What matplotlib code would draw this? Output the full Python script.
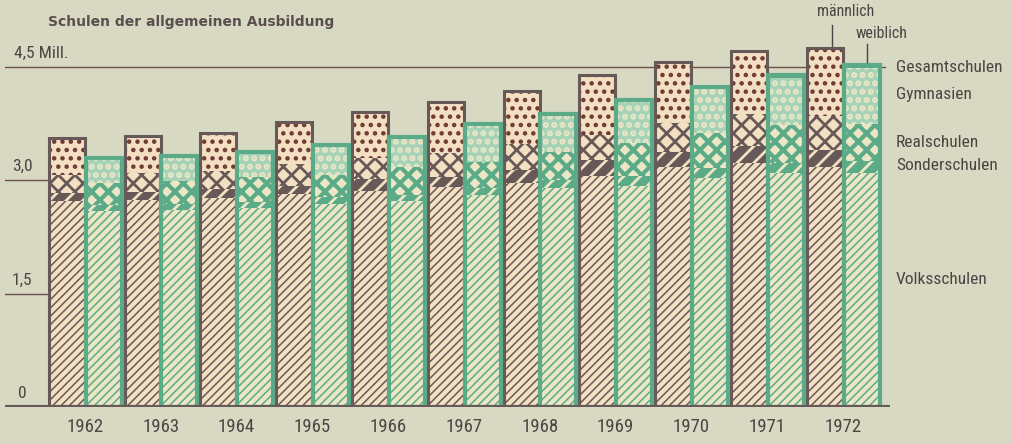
import numpy as np
import matplotlib.pyplot as plt
from matplotlib import font_manager
from matplotlib.lines import Line2D

# schmale Schrift, falls vorhanden
narrow = None
for fam in ['Roboto Condensed', 'Liberation Sans Narrow', 'Open Sans Condensed', 'DejaVu Sans Condensed']:
    try:
        font_manager.findfont(fam, fallback_to_default=False)
        narrow = fam
        break
    except ValueError:
        pass
if narrow:
    plt.rcParams['font.family'] = [narrow, 'DejaVu Sans']
    fs, fs_year, fs_small = 12.5, 13.5, 11.5
else:
    plt.rcParams['font.family'] = ['DejaVu Sans']
    plt.rcParams['font.stretch'] = 'condensed'
    fs, fs_year, fs_small = 10.5, 11, 10

years = [1962, 1963, 1964, 1965, 1966, 1967, 1968, 1969, 1970, 1971, 1972]

# Mill. Schüler, männlich
m_volks = [2.72, 2.74, 2.77, 2.82, 2.86, 2.91, 2.97, 3.06, 3.17, 3.23, 3.17]
m_sonder = [0.11, 0.11, 0.11, 0.11, 0.16, 0.13, 0.17, 0.21, 0.21, 0.23, 0.23]
m_real = [0.24, 0.25, 0.25, 0.28, 0.28, 0.32, 0.34, 0.33, 0.38, 0.42, 0.45]
m_gymn = [0.49, 0.49, 0.49, 0.56, 0.60, 0.68, 0.70, 0.79, 0.79, 0.80, 0.87]
m_gesamt = [0, 0, 0, 0, 0, 0, 0, 0, 0.01, 0.03, 0.03]

# weiblich
w_volks = [2.60, 2.61, 2.64, 2.69, 2.72, 2.81, 2.90, 2.93, 3.03, 3.10, 3.10]
w_sonder = [0.08, 0.08, 0.07, 0.09, 0.09, 0.09, 0.11, 0.13, 0.13, 0.13, 0.15]
w_real = [0.28, 0.30, 0.33, 0.29, 0.37, 0.34, 0.37, 0.44, 0.46, 0.50, 0.50]
w_gymn = [0.33, 0.33, 0.34, 0.40, 0.40, 0.50, 0.50, 0.56, 0.60, 0.63, 0.74]
w_gesamt = [0, 0, 0, 0, 0, 0, 0, 0, 0.01, 0.03, 0.04]

yticks = [0, 1.5, 3.0]
ytick_labels = ['0', '1,5', '3,0']

bg = '#d7d9c2'
dark = '#675958'
cream = '#f3dfc2'
green = '#5bab88'
wcream = '#ece6c6'
dotred = '#6e3a32'
txt = '#4d4444'

W, H = 1011, 444
fig = plt.figure(figsize=(W / 100, H / 100), dpi=100, facecolor=bg)
ax = fig.add_axes([5 / W, 37 / H, 885 / W, 374 / H])
ax.set_facecolor(bg)
ax.set_xlim(-1.055, 10.62)
ax.set_ylim(0, 4.95)
ax.axis('off')

x = np.arange(len(years))
bw = 0.475
xm = x - 0.24
xw = x + 0.245


def layer(xs, vals, bottom, fill, hcol, hatch, hlw):
    with plt.rc_context({'hatch.linewidth': hlw}):
        ax.bar(xs, vals, bw, bottom=bottom, color=fill, edgecolor=hcol,
               hatch=hatch, linewidth=0, zorder=2)
    return bottom + np.array(vals)


# maennlich
b = np.zeros(len(years))
b = layer(xm, m_volks, b, cream, dark, '////', 1.1)
b = layer(xm, m_sonder, b, dark, cream, '//', 2.0)
b = layer(xm, m_real, b, cream, dark, 'xx', 2.0)
b = layer(xm, m_gymn, b, cream, dotred, '..', 2.0)
b = layer(xm, m_gesamt, b, dark, dark, None, 0.5)
ax.bar(xm, b, bw, fill=False, edgecolor=dark, linewidth=2.2, zorder=3)

# weiblich
b = np.zeros(len(years))
b = layer(xw, w_volks, b, wcream, green, '////', 1.1)
b = layer(xw, w_sonder, b, green, wcream, '//', 2.0)
b = layer(xw, w_real, b, wcream, green, 'xx', 3.0)
b = layer(xw, w_gymn, b, '#a6d3b8', wcream, '..', 3.0)
b = layer(xw, w_gesamt, b, green, green, None, 0.5)
ax.bar(xw, b, bw, fill=False, edgecolor=green, linewidth=3, zorder=3)

# Achsenlinien
ax.axhline(0, color=dark, lw=3, zorder=4)
ax.plot([-1.055, 10.55], [4.5, 4.5], color='#6e4f4f', lw=1, zorder=1)
for yv, lab in zip(yticks, ytick_labels):
    if yv > 0:
        ax.plot([-1.055, -0.5], [yv, yv], color='#6e4f4f', lw=1, zorder=1)
    ax.text(-0.83, yv + 0.18, lab, ha='center', va='center', fontsize=fs, color=txt)
ax.text(-0.94, 4.68, '4,5 Mill.', ha='left', va='center', fontsize=fs, color=txt)

for xi, yr in zip(x, years):
    ax.text(xi, -0.27, str(yr), ha='center', va='center', fontsize=fs_year,
            color=txt, clip_on=False)


def fx(p):
    return p / W


def fy(p):
    return 1 - p / H


fig.text(fx(48), fy(22), 'Schulen der allgemeinen Ausbildung', ha='left', va='center',
         fontsize=10, fontweight='bold', color='#5a4e4e', family='DejaVu Sans')

for lab, py in [('Gesamtschulen', 68), ('Gymnasien', 94), ('Realschulen', 142),
                ('Sonderschulen', 166), ('Volksschulen', 279)]:
    fig.text(fx(896), fy(py), lab, ha='left', va='center', fontsize=fs, color=txt)

fig.text(fx(846), fy(12), 'männlich', ha='center', va='center', fontsize=fs_small, color=txt)
fig.text(fx(882), fy(34), 'weiblich', ha='center', va='center', fontsize=fs_small, color=txt)
fig.add_artist(Line2D([fx(832), fx(832)], [fy(25), fy(46)], color=txt, lw=1))
fig.add_artist(Line2D([fx(867), fx(867)], [fy(44), fy(62)], color=txt, lw=1))

fig.savefig('out.png', dpi=100, facecolor=bg)
